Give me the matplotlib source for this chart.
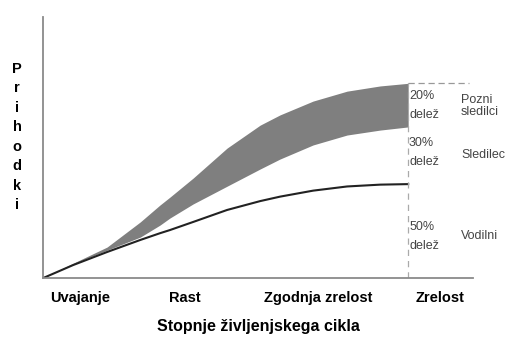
import matplotlib.pyplot as plt

# stages on x (0..100), revenue on y (0..100)
x = [0, 7.0, 14.9, 22.6, 27.2, 29.5, 34.9, 42.8, 50.5, 55.1, 62.8, 70.7, 78.4, 84.9]
vodilni = [0, 5.0, 10.0, 14.6, 17.2, 18.4, 21.5, 26.1, 29.5, 31.2, 33.5, 35.1, 35.8, 36.0]
sledilec_top = [0, 5.4, 10.7, 15.7, 20.3, 23.0, 28.4, 35.2, 41.8, 45.6, 51.0, 54.8, 56.7, 57.9]
pozni_top = [0, 5.7, 11.9, 21.5, 28.0, 31.0, 38.3, 49.8, 58.6, 62.5, 67.8, 71.6, 73.6, 74.6]

stages = ['Uvajanje', 'Rast', 'Zgodnja zrelost', 'Zrelost']
stage_pos = [8.6, 33, 64, 92.3]

shares = ['20%\ndelež', '30%\ndelež', '50%\ndelež']
share_y = [66, 48, 16]
names = ['Pozni\nsledilci', 'Sledilec', 'Vodilni']
name_y = [66, 47, 16]

plt.rcParams['font.family'] = ['Liberation Sans', 'DejaVu Sans']
fig = plt.figure(figsize=(5.09, 3.40), dpi=100)
ax = fig.add_axes([0.0845, 0.182, 0.845, 0.768])

ax.fill_between(x, sledilec_top, pozni_top, color='#7f7f7f', lw=0)
ax.plot(x, vodilni, color='#222222', lw=1.5, solid_joinstyle='round')

xe = x[-1]
ax.plot([xe, xe], [0, pozni_top[-1]], color='#aaaaaa', lw=0.9, ls=(0, (5, 4)))
ax.plot([xe, 99], [pozni_top[-1], pozni_top[-1]], color='#999999', lw=0.9, ls=(0, (5, 3)))

for s, yy in zip(shares, share_y):
    ax.text(xe + 0.2, yy, s, fontsize=9, color='#444444', va='center', ha='left', linespacing=1.8)
for s, yy in zip(names, name_y):
    ax.text(97.2, yy, s, fontsize=9, color='#444444', va='center', ha='left', linespacing=1.05)

ax.set_xlim(0, 100)
ax.set_ylim(0, 100)
for sp in ['top', 'right']:
    ax.spines[sp].set_visible(False)
for sp in ['left', 'bottom']:
    ax.spines[sp].set_color('#8a8a8a')
    ax.spines[sp].set_linewidth(1.3)

ax.set_yticks([])
ax.set_xticks(stage_pos)
ax.set_xticklabels(stages, fontsize=10.5, fontweight='bold')
ax.tick_params(axis='x', length=0, pad=9)
ax.set_xlabel('Stopnje življenjskega cikla', fontsize=11.5, fontweight='bold', labelpad=10)
ax.set_ylabel('\n'.join('Prihodki'), fontsize=10.5, fontweight='bold', rotation=0,
              linespacing=1.5, va='center', ha='center')
ax.yaxis.set_label_coords(-0.06, 0.54)

fig.savefig('out.png', dpi=100)
